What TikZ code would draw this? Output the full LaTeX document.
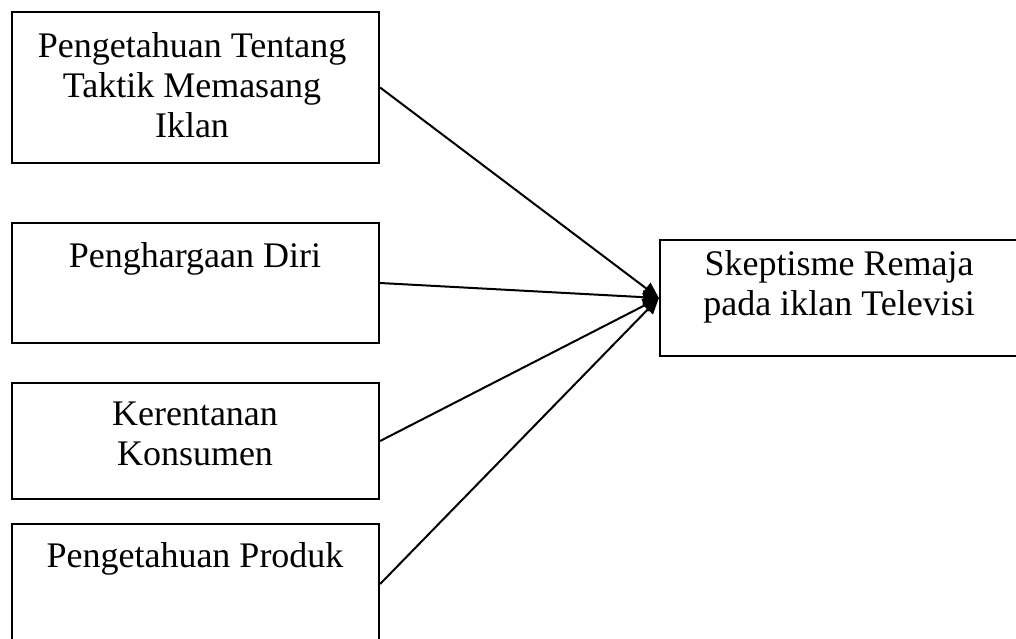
\documentclass[tikz,border=0pt]{standalone}
\usepackage{fontspec}
\setmainfont{Liberation Serif}
\usetikzlibrary{arrows.meta}
\tikzset{
  boxnode/.style={draw=black, line width=2.2pt, rectangle, inner sep=0pt},
  lbl/.style={font=\fontsize{36}{40}\selectfont, align=center, inner sep=0pt, anchor=base},
  conn/.style={line width=2pt, -{Triangle[length=16pt,width=14pt]}}
}
\begin{document}
\begin{tikzpicture}[x=1pt,y=-1pt]
\useasboundingbox (0,0) rectangle (1016,638);
\fill[white] (0,0) rectangle (1016,638);
\clip (0,0) rectangle (1016,638);
\node[boxnode, minimum width=367pt, minimum height=151pt] (b1) at (195.5,87.5) {};
\node[boxnode, minimum width=367pt, minimum height=120pt] (b2) at (195.5,283) {};
\node[boxnode, minimum width=367pt, minimum height=116pt] (b3) at (195.5,441) {};
\node[boxnode, minimum width=367pt, minimum height=120pt] (b4) at (195.5,584) {};
\node[boxnode, minimum width=380pt, minimum height=116pt] (t) at (850,298) {};
\node[lbl] (l1) at (192,137) {Pengetahuan Tentang\\Taktik Memasang\\Iklan};
\node[lbl] (l2) at (195,267) {Penghargaan Diri};
\node[lbl] (l3) at (195,465) {Kerentanan\\Konsumen};
\node[lbl] (l4) at (195,567) {Pengetahuan Produk};
\node[lbl] (lt) at (839,315) {Skeptisme Remaja\\pada iklan Televisi};
\draw[conn] (b1.east) -- (t.west);
\draw[conn] (b2.east) -- (t.west);
\draw[conn] (b3.east) -- (t.west);
\draw[conn] (b4.east) -- (t.west);
\end{tikzpicture}
\end{document}
